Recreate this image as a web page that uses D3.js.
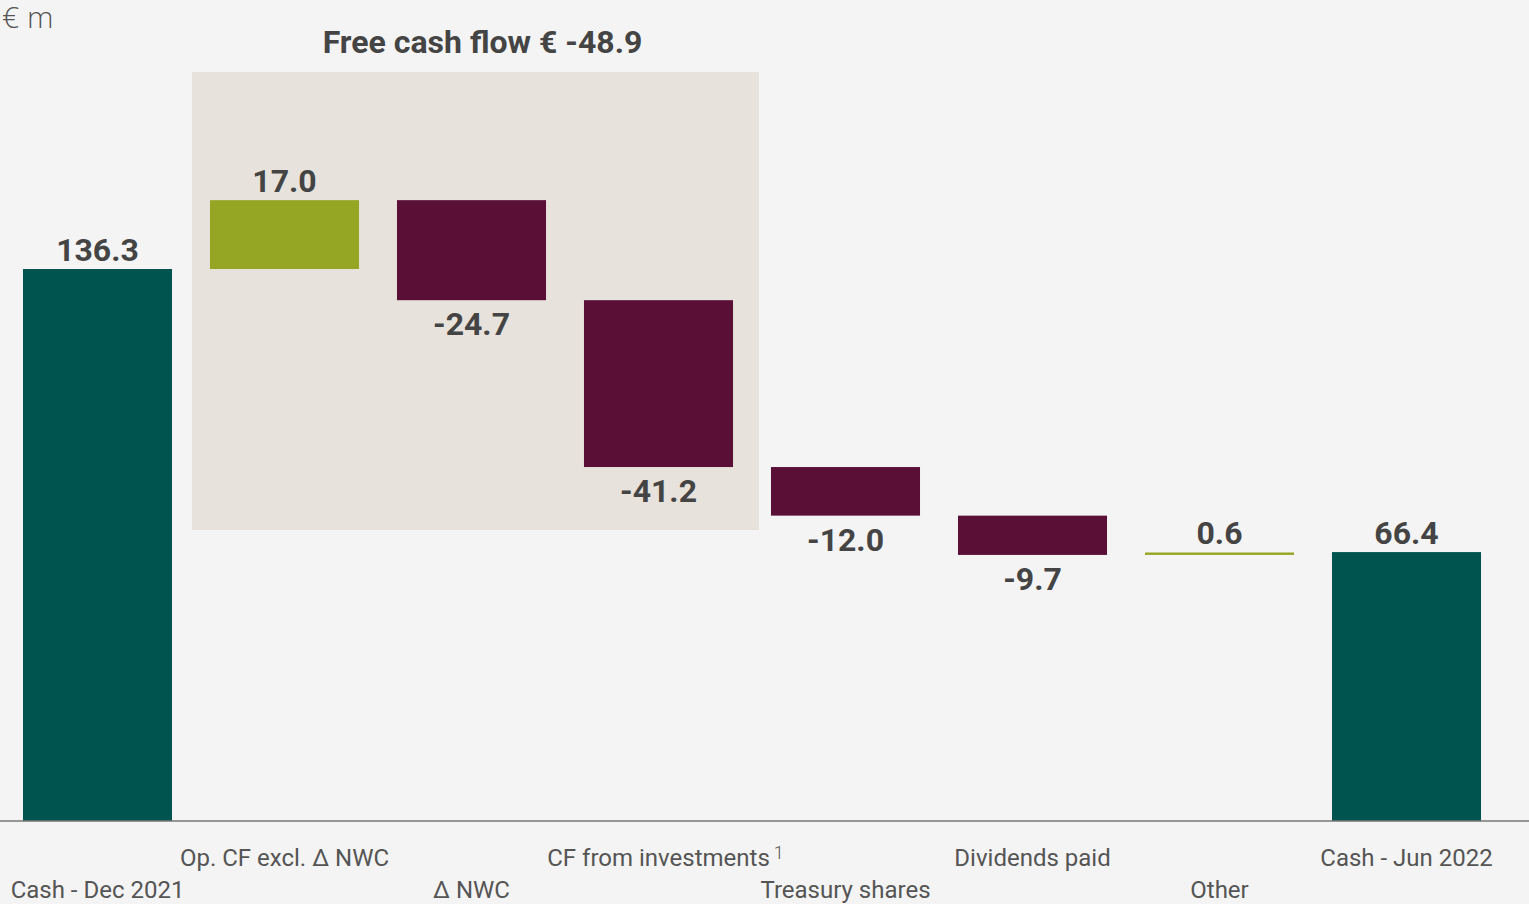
<!DOCTYPE html>
<html>
<head>
<meta charset="utf-8">
<script src="https://cdn.jsdelivr.net/npm/d3@7"></script>
<style>
  html, body { margin: 0; padding: 0; background: #f4f4f4; }
  svg { display: block; }
</style>
</head>
<body>
<svg id="chart" width="1529" height="904"></svg>
<script>
// Cash bridge, € m
const categories = [
  "Cash - Dec 2021", "Op. CF excl. \u0394 NWC", "\u0394 NWC", "CF from investments",
  "Treasury shares", "Dividends paid", "Other", "Cash - Jun 2022"
];
const values = [136.3, 17.0, -24.7, -41.2, -12.0, -9.7, 0.6, 66.4];
const kinds = ["total", "delta", "delta", "delta", "delta", "delta", "delta", "total"];
const footnotes = ["", "", "", "1", "", "", "", ""];
const freeCashFlowLabel = "Free cash flow \u20ac -48.9";
const freeCashFlowItems = ["Op. CF excl. \u0394 NWC", "\u0394 NWC", "CF from investments"];
const unitLabel = "\u20ac m";

const W = 1529, H = 904;
const baseY = 821;
const colors = { total: "#00544f", up: "#95a625", down: "#5a0f37" };

// running totals for the waterfall
let run = 0;
const bars = categories.map((c, i) => {
  let y0, y1;
  if (kinds[i] === "total") { y0 = 0; y1 = values[i]; run = values[i]; }
  else { y0 = run; y1 = run + values[i]; run = y1; }
  return { cat: c, value: values[i], kind: kinds[i], lo: Math.min(y0, y1), hi: Math.max(y0, y1), i };
});

const x = d3.scaleBand().domain(categories).range([4, 1500]).paddingInner(0.203).paddingOuter(0.1015);
const y = d3.scaleLinear().domain([0, 136.3]).range([baseY, baseY - 552]);

const svg = d3.select("#chart");
svg.append("rect").attr("width", W).attr("height", H).attr("fill", "#f4f4f4");

// shaded free-cash-flow group
const fx0 = x(freeCashFlowItems[0]) - 18;
const fx1 = x(freeCashFlowItems[freeCashFlowItems.length - 1]) + x.bandwidth() + 26;
svg.append("rect")
  .attr("x", fx0).attr("y", 72).attr("width", fx1 - fx0).attr("height", 530 - 72)
  .attr("fill", "#e7e2dc");
svg.append("text")
  .attr("x", (fx0 + fx1) / 2 + 7).attr("y", 53)
  .attr("text-anchor", "middle")
  .attr("font-family", "Roboto").attr("font-weight", "bold").attr("font-size", 32)
  .attr("fill", "#444").text(freeCashFlowLabel);

// unit label
svg.append("text").attr("x", 2).attr("y", 28)
  .attr("font-family", "Open Sans").attr("font-weight", 300).attr("font-size", 30).attr("fill", "#555")
  .text(unitLabel);

// bars
svg.append("g").selectAll("rect").data(bars).join("rect")
  .attr("x", d => x(d.cat))
  .attr("width", x.bandwidth())
  .attr("y", d => y(d.hi))
  .attr("height", d => Math.max(1.5, y(d.lo) - y(d.hi)))
  .attr("fill", d => d.kind === "total" ? colors.total : (d.value >= 0 ? colors.up : colors.down));

// baseline
svg.append("line").attr("x1", 0).attr("x2", W).attr("y1", baseY).attr("y2", baseY)
  .attr("stroke", "#777").attr("stroke-width", 1.5);

// value labels
svg.append("g").selectAll("text").data(bars).join("text")
  .attr("x", d => x(d.cat) + x.bandwidth() / 2)
  .attr("y", d => (d.kind === "total" || d.value >= 0) ? y(d.hi) - 8 : y(d.lo) + 35)
  .attr("text-anchor", "middle")
  .attr("font-family", "Roboto").attr("font-weight", "bold").attr("font-size", 32)
  .attr("fill", "#444")
  .text(d => d.value.toFixed(1));

// category labels, staggered on two rows
const cl = svg.append("g").selectAll("g").data(bars).join("g")
  .attr("transform", d => `translate(${x(d.cat) + x.bandwidth() / 2},${d.i % 2 === 1 ? 866 : 898})`);
cl.append("text")
  .attr("text-anchor", "middle")
  .attr("font-family", "Roboto").attr("font-size", 24).attr("fill", "#555")
  .text(d => d.cat)
  .each(function(d) {
    if (footnotes[d.i]) {
      const w = this.getComputedTextLength();
      d3.select(this.parentNode).append("text")
        .attr("x", w / 2 + 4).attr("y", -7)
        .attr("font-family", "Roboto").attr("font-weight", 300).attr("font-size", 18).attr("fill", "#555")
        .text(footnotes[d.i]);
    }
  });
</script>
</body>
</html>
